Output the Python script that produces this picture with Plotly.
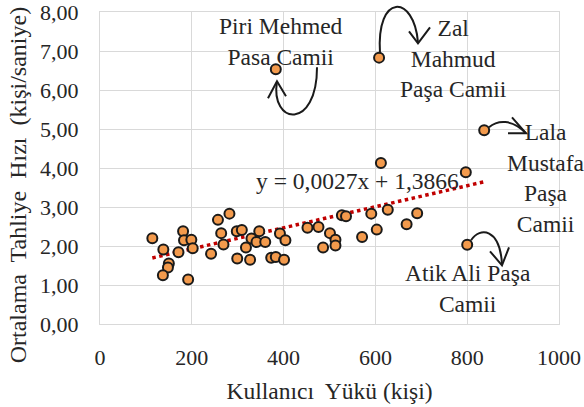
import plotly.graph_objects as go

# Kullanıcı yükü (kişi)
user_load = [114, 138, 150, 148, 137, 171, 181, 183, 199, 202, 192, 242, 257, 282, 264, 269,
             298, 309, 299, 327, 318, 330, 341, 347, 360, 373, 383, 401, 392, 404,
             452, 476, 501, 486, 513, 513, 527, 536, 571, 591, 603, 627, 668, 691,
             612, 797, 800, 383, 608, 837]
# Ortalama tahliye hızı (kişi/saniye)
evac_speed = [2.20, 1.91, 1.55, 1.45, 1.25, 1.84, 2.38, 2.15, 2.16, 1.94, 1.14, 1.80, 2.67, 2.83, 2.33, 2.04,
              2.38, 2.41, 1.68, 1.65, 1.96, 2.19, 2.10, 2.38, 2.10, 1.70, 1.72, 1.65, 2.32, 2.15,
              2.47, 2.49, 2.33, 1.96, 2.16, 2.01, 2.79, 2.76, 2.23, 2.83, 2.42, 2.93, 2.56, 2.84,
              4.13, 3.89, 2.03, 6.53, 6.83, 4.97]

trend_slope = 0.0027
trend_intercept = 1.3866
trend_label = "y = 0,0027x + 1,3866"

x_ticks = [0, 200, 400, 600, 800, 1000]
y_ticks = [0, 1, 2, 3, 4, 5, 6, 7, 8]

x_title = "Kullanıcı  Yükü (kişi)"
y_title = "Ortalama  Tahliye  Hızı  (kişi/saniye)"

# labels for outlier mosques: (text, x, y)
mosque_labels = [
    ("Piri Mehmed<br>Pasa Camii", 394, 7.25),
    ("Zal<br>Mahmud<br>Paşa Camii", 771, 6.81),
    ("Lala<br>Mustafa<br>Paşa<br>Camii", 972, 3.74),
    ("Atik Ali Paşa<br>Camii", 802, 0.92),
]

FONT = "Liberation Serif"
TXT = "#262626"
LBL = 23.5

fig = go.Figure()

tx = [min(user_load), max(user_load)]
ty = [trend_slope * v + trend_intercept for v in tx]
fig.add_trace(go.Scatter(x=tx, y=ty, mode="lines",
                         line=dict(color="#C00000", width=3.5, dash="dot"),
                         hoverinfo="skip", showlegend=False))

fig.add_trace(go.Scatter(x=user_load, y=evac_speed, mode="markers",
                         marker=dict(size=10, color="#F39A4C",
                                     line=dict(color="#1A1A1A", width=2)),
                         showlegend=False))

annotations = [dict(text=t, x=x, y=y, xref="x", yref="y", showarrow=False,
                    font=dict(family=FONT, size=LBL, color=TXT), align="center")
               for t, x, y in mosque_labels]
annotations.append(dict(text=trend_label, x=561, y=3.66, xref="x", yref="y", showarrow=False,
                        font=dict(family=FONT, size=LBL, color=TXT)))
annotations.append(dict(text=y_title, x=-0.1786, y=0.4446, xref="paper", yref="paper",
                        textangle=-90, showarrow=False, xanchor="center", yanchor="middle",
                        font=dict(family=FONT, size=24, color=TXT)))

# curved arrows (paper coordinates)
arrow_style = dict(color="#1A1A1A", width=2)
curves = [
    "M 0.4728 0.8228 C 0.4728 0.6208 0.3704 0.6369 0.3856 0.7779",
    "M 0.3660 0.7234 L 0.3856 0.7779 L 0.4052 0.7298",
    "M 0.6100 0.8676 C 0.6013 1.0631 0.6841 1.0568 0.6928 0.9029",
    "M 0.6732 0.9381 L 0.6928 0.8997 L 0.7190 0.9510",
    "M 0.8475 0.6304 C 0.8649 0.6529 0.8976 0.6593 0.9281 0.6112",
    "M 0.8976 0.6625 L 0.9281 0.6112 L 0.8889 0.6112",
    "M 0.8083 0.2683 C 0.8279 0.3131 0.8715 0.3067 0.8758 0.1913",
    "M 0.8497 0.2330 L 0.8758 0.1881 L 0.8911 0.2458",
]
shapes = [dict(type="path", path=p, xref="paper", yref="paper", line=arrow_style,
               layer="above") for p in curves]

fig.update_layout(
    width=584, height=407,
    margin=dict(l=100, r=25, t=12, b=83),
    paper_bgcolor="white", plot_bgcolor="white",
    separators=",.",
    font=dict(family=FONT, size=22, color=TXT),
    annotations=annotations,
    shapes=shapes,
)
fig.update_xaxes(range=[0, 1000], tickvals=x_ticks, tickformat="d", automargin=False,
                 showgrid=True, gridcolor="#D9D9D9", gridwidth=1,
                 showline=True, linecolor="#D9D9D9", mirror=True, zeroline=False,
                 ticks="", ticklabelstandoff=14, ticklabeloverflow="allow",
                 title=dict(text=x_title, standoff=13,
                            font=dict(family=FONT, size=LBL, color=TXT)),
                 tickfont=dict(family=FONT, size=22, color=TXT))
fig.update_yaxes(range=[0, 8], tickvals=y_ticks, tickformat=".2f", automargin=False,
                 showgrid=True, gridcolor="#D9D9D9", gridwidth=1,
                 showline=True, linecolor="#D9D9D9", mirror=True, zeroline=False,
                 ticks="", ticklabelstandoff=16, ticklabeloverflow="allow",
                 tickfont=dict(family=FONT, size=22, color=TXT))

fig.write_html("out.html")
